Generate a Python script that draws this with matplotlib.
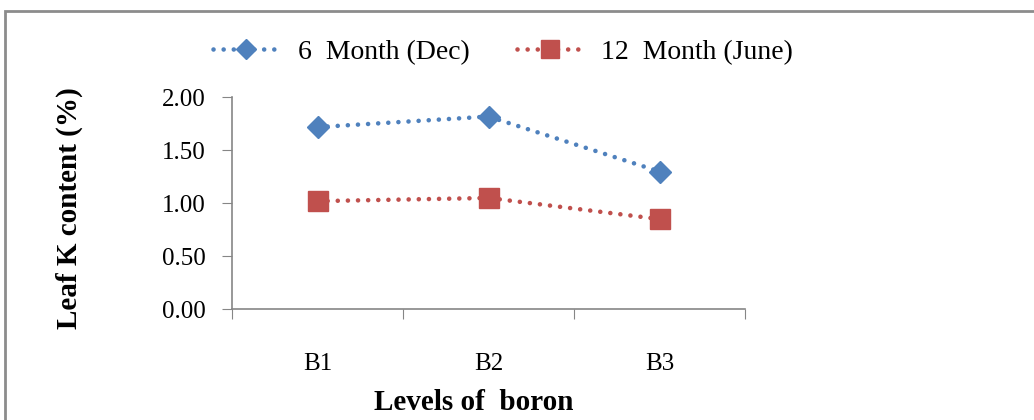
import matplotlib.pyplot as plt
from matplotlib.patches import Rectangle

levels = ['B1', 'B2', 'B3']
dec_values = [1.72, 1.82, 1.30]
june_values = [1.02, 1.05, 0.85]
series_labels = ['6  Month (Dec)', '12  Month (June)']
y_ticks = [0.0, 0.5, 1.0, 1.5, 2.0]

plt.rcParams['font.family'] = ['Liberation Serif', 'DejaVu Serif']

W, H = 1034, 420
fig = plt.figure(figsize=(W / 100, H / 100), dpi=100)
ax = fig.add_axes([232 / W, 1 - 309 / H, (745 - 232) / W, (309 - 97.5) / H])

# outer chart frame (cut off at right and bottom)
fig.patches.append(Rectangle((5 / W, -0.1), 1.2, 1 - 11 / H + 0.1,
                             transform=fig.transFigure, fill=False,
                             edgecolor='#8c8c8c', linewidth=2))

x = range(len(levels))
dots = (0, (0.01, 2.2))
ax.plot(x, dec_values, color='#4F81BD', linestyle=dots, linewidth=3.3,
        dash_capstyle='round', marker='D', markersize=11,
        label=series_labels[0])
ax.plot(x, june_values, color='#C0504D', linestyle=dots, linewidth=3.3,
        dash_capstyle='round', marker='s', markersize=14,
        label=series_labels[1])

ax.set_xlim(-0.5, 2.5)
ax.set_ylim(0, 2.0)
ax.set_yticks(y_ticks)
ax.set_yticklabels([f'{v:.2f}' for v in y_ticks])
ax.set_xticks([-0.5, 0.5, 1.5, 2.5])
ax.set_xticklabels([])
ax.set_xticks(list(x), minor=True)
ax.set_xticklabels(levels, minor=True)
ax.tick_params(axis='x', which='minor', length=0, pad=32, labelsize=18)
ax.tick_params(axis='x', which='major', length=7, color='#868686', direction='out')
ax.tick_params(axis='y', length=7, color='#868686', pad=12, labelsize=18)

for side in ['top', 'right']:
    ax.spines[side].set_visible(False)
for side in ['left', 'bottom']:
    ax.spines[side].set_color('#868686')
    ax.spines[side].set_linewidth(1.2)

fig.text(474 / W, 1 - 402 / H, 'Levels of  boron', ha='center', va='center',
         fontsize=21, fontweight='bold')
fig.text(69 / W, 1 - 208 / H, 'Leaf K content (%)', ha='center', va='center',
         rotation=90, fontsize=21, fontweight='bold')

fig.legend(loc='center', bbox_to_anchor=(503 / W, 1 - 52 / H), ncol=2,
           frameon=False, fontsize=20, handlelength=2.4, columnspacing=1.7,
           handletextpad=0.65, markerscale=0.9)

fig.savefig('out.png', dpi=100)
